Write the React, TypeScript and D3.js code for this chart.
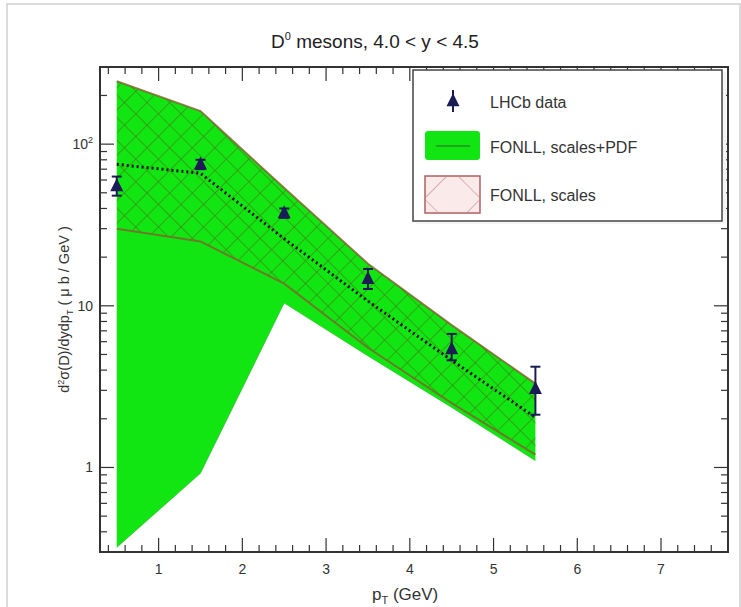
import * as d3 from 'd3'

// LHCb D0 data, 4.0 < y < 4.5
const ptBins = [0.5, 1.5, 2.5, 3.5, 4.5, 5.5]
const lhcbValue = [55, 75, 37.5, 14.7, 5.4, 3.07]
const lhcbLow = [48, 70, 35, 12.7, 4.6, 2.12]
const lhcbHigh = [63, 80, 40, 16.9, 6.7, 4.2]

// FONLL predictions
const fonllCentral = [75, 66, 26, 10.7, 4.6, 2.04]
const pdfUpper = [245, 160, 53.5, 18.2, 7.6, 3.3]
const pdfLower = [0.32, 0.92, 10.4, 4.9, 2.35, 1.1]
const scalesUpper = [245, 160, 53.5, 18.2, 7.6, 3.3]
const scalesLower = [30, 25, 13.7, 5.5, 2.5, 1.2]

const xTicks = [1, 2, 3, 4, 5, 6, 7]
const yTicks = [1, 10, 100]

const W = 741
const H = 607
const margin = { top: 67, right: 13, bottom: 55, left: 100 }

const GREEN = '#12e612'
const HATCH = '#3f7f16'
const EDGE = '#7a6a2a'
const MARKER = '#1b1b55'
const FONT = '"Liberation Sans", Arial, sans-serif'

export default function App() {
  const x = d3.scaleLinear().domain([0.3, 7.8]).range([margin.left, W - margin.right])
  const y = d3.scaleLog().domain([0.3, 300]).range([H - margin.bottom, margin.top])

  const x0 = x.range()[0], x1 = x.range()[1]
  const y0 = y.range()[0], y1 = y.range()[1]

  const band = (lo: number[], hi: number[]) =>
    d3.area<number>()
      .x((d, i) => x(ptBins[i]))
      .y0((d, i) => y(lo[i]))
      .y1((d, i) => y(hi[i]))(ptBins) || ''

  const edge = (v: number[]) =>
    d3.line<number>().x((d, i) => x(ptBins[i])).y((d, i) => y(v[i]))(ptBins) || ''

  // minor ticks
  const xMinor = d3.range(0.4, 7.8, 0.2).filter(v => Math.abs(v - Math.round(v)) > 0.01)
  const yMinor: number[] = []
  for (const dec of [0.1, 1, 10, 100]) {
    for (let k = 2; k <= 9; k++) {
      const v = dec * k
      if (v >= 0.3 && v <= 300) yMinor.push(v)
    }
  }

  const tri = (cx: number, cy: number, s: number) =>
    `M${cx},${cy - s * 0.6} L${cx + s * 0.5},${cy + s * 0.4} L${cx - s * 0.5},${cy + s * 0.4} Z`

  return (
    <svg width={W} height={H} style={{ display: 'block', position: 'absolute', left: 0, top: 0, background: '#fff' }}>
      <defs>
        <pattern id="xhatch" width="16" height="16" patternUnits="userSpaceOnUse" patternTransform="rotate(45)">
          <line x1="0" y1="0" x2="0" y2="16" stroke={HATCH} strokeWidth="1.5" strokeOpacity="0.85" />
          <line x1="0" y1="0" x2="16" y2="0" stroke={HATCH} strokeWidth="1.5" strokeOpacity="0.85" />
        </pattern>
        <pattern id="xhatchLegend" width="40" height="40" patternUnits="userSpaceOnUse" patternTransform="rotate(45)">
          <line x1="0" y1="0" x2="0" y2="40" stroke="#c88080" strokeWidth="1.2" />
          <line x1="0" y1="0" x2="40" y2="0" stroke="#c88080" strokeWidth="1.2" />
        </pattern>
        <clipPath id="plotClip">
          <rect x={x0} y={y1} width={x1 - x0} height={y0 - y1} />
        </clipPath>
      </defs>

      {/* canvas border */}
      <rect x={7} y={4} width={733} height={610} fill="none" stroke="#cfcfcf" strokeWidth={1.5} />

      <text x={375} y={48} textAnchor="middle" fontFamily={FONT} fontSize={19} fill="#222">
        D<tspan dy={-8} fontSize={11}>0</tspan><tspan dy={8}> mesons, 4.0 &lt; y &lt; 4.5</tspan>
      </text>

      <g clipPath="url(#plotClip)">
        <path d={band(pdfLower, pdfUpper)} fill={GREEN} />
        <path d={band(scalesLower, scalesUpper)} fill="url(#xhatch)" />
        <path d={edge(scalesUpper)} fill="none" stroke={EDGE} strokeWidth={2} strokeOpacity={0.85} />
        <path d={edge(scalesLower)} fill="none" stroke={EDGE} strokeWidth={2} strokeOpacity={0.85} />
        <path d={edge(pdfLower)} fill="none" stroke="#2aa82a" strokeWidth={1} strokeOpacity={0.5} />
        <path d={edge(fonllCentral)} fill="none" stroke="#111" strokeWidth={3} strokeDasharray="2,3" />

        {ptBins.map((p, i) => (
          <g key={p}>
            <line x1={x(p)} x2={x(p)} y1={y(lhcbLow[i])} y2={y(lhcbHigh[i])} stroke={MARKER} strokeWidth={2} />
            <line x1={x(p) - 5} x2={x(p) + 5} y1={y(lhcbLow[i])} y2={y(lhcbLow[i])} stroke={MARKER} strokeWidth={2} />
            <line x1={x(p) - 5} x2={x(p) + 5} y1={y(lhcbHigh[i])} y2={y(lhcbHigh[i])} stroke={MARKER} strokeWidth={2} />
            <path d={tri(x(p), y(lhcbValue[i]), 13)} fill={MARKER} />
          </g>
        ))}
      </g>

      {/* ticks inside frame on all four sides */}
      <g stroke="#333" strokeWidth={1.2}>
        {xTicks.map(t => (
          <g key={'xt' + t}>
            <line x1={x(t)} x2={x(t)} y1={y0} y2={y0 - 14} />
            <line x1={x(t)} x2={x(t)} y1={y1} y2={y1 + 14} />
          </g>
        ))}
        {xMinor.map(t => (
          <g key={'xm' + t}>
            <line x1={x(t)} x2={x(t)} y1={y0} y2={y0 - 7} />
            <line x1={x(t)} x2={x(t)} y1={y1} y2={y1 + 7} />
          </g>
        ))}
        {yTicks.map(t => (
          <g key={'yt' + t}>
            <line x1={x0} x2={x0 + 14} y1={y(t)} y2={y(t)} />
            <line x1={x1} x2={x1 - 14} y1={y(t)} y2={y(t)} />
          </g>
        ))}
        {yMinor.map(t => (
          <g key={'ym' + t}>
            <line x1={x0} x2={x0 + 7} y1={y(t)} y2={y(t)} />
            <line x1={x1} x2={x1 - 7} y1={y(t)} y2={y(t)} />
          </g>
        ))}
      </g>

      <rect x={x0} y={y1} width={x1 - x0} height={y0 - y1} fill="none" stroke="#333" strokeWidth={2} />

      {/* x tick labels */}
      {xTicks.map(t => (
        <text key={'xl' + t} x={x(t)} y={y0 + 22} textAnchor="middle" fontFamily={FONT} fontSize={14} fill="#333">{t}</text>
      ))}
      {/* y tick labels */}
      {yTicks.map(t => (
        <text key={'yl' + t} x={x0 - 7} y={y(t) + 5} textAnchor="end" fontFamily={FONT} fontSize={14} fill="#333">
          {t === 100 ? <>10<tspan dy={-6} fontSize={9}>2</tspan></> : String(t)}
        </text>
      ))}

      <text x={372} y={600} fontFamily={FONT} fontSize={17} fill="#333">
        p<tspan dy={4} fontSize={11}>T</tspan><tspan dy={-4}> (GeV)</tspan>
      </text>

      <text transform={`translate(69,${(y0 + y1) / 2}) rotate(-90)`} textAnchor="middle" fontFamily={FONT} fontSize={14.5} fill="#333">
        d<tspan dy={-5} fontSize={9}>2</tspan><tspan dy={5}>σ(D)/dydp</tspan><tspan dy={4} fontSize={9}>T</tspan><tspan dy={-4}>  ( μ b / GeV )</tspan>
      </text>

      {/* legend */}
      <g fontFamily={FONT} fontSize={16} fill="#333">
        <rect x={416} y={72} width={310} height={152} fill="#f4f4f4" stroke="none" />
        <rect x={413} y={70} width={309} height={151} fill="#fff" stroke="#444" strokeWidth={1.5} />
        <line x1={453} x2={453} y1={90} y2={112} stroke={MARKER} strokeWidth={2} />
        <path d={tri(453, 101, 13)} fill={MARKER} />
        <text x={490} y={108}>LHCb data</text>
        <rect x={425} y={131} width={55} height={29} rx={3} fill={GREEN} />
        <line x1={436} x2={470} y1={146} y2={146} stroke="#2a7a2a" strokeWidth={2} strokeOpacity={0.6} />
        <text x={490} y={153}>FONLL, scales+PDF</text>
        <rect x={425} y={176} width={55} height={37} fill="#fbeaea" stroke="#b06060" strokeWidth={1.5} />
        <rect x={425} y={176} width={55} height={37} fill="url(#xhatchLegend)" />
        <text x={490} y={201}>FONLL, scales</text>
      </g>
    </svg>
  )
}
